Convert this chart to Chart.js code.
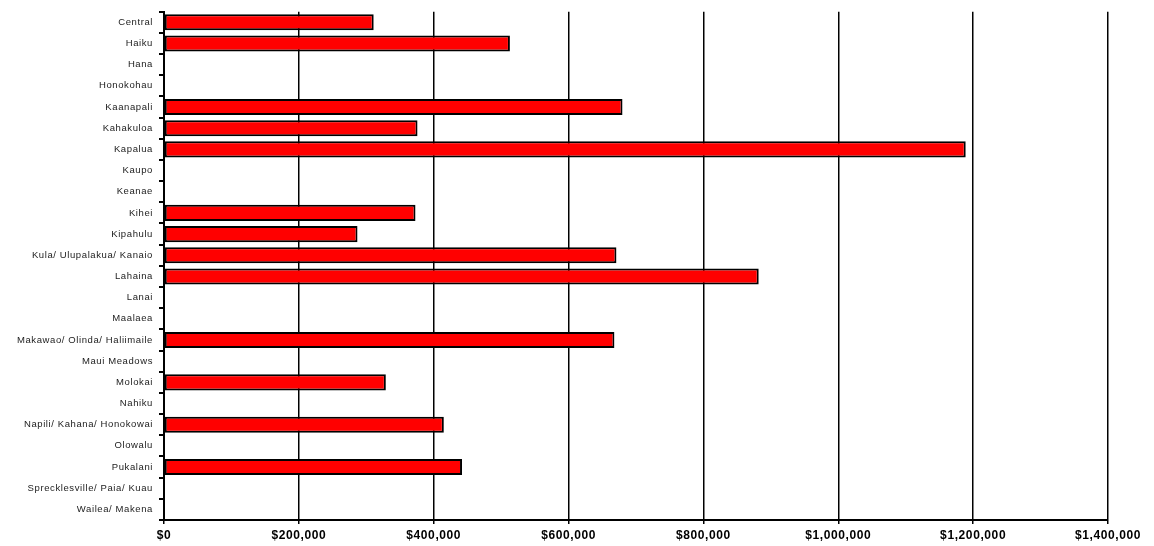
<!DOCTYPE html>
<html>
<head>
<meta charset="utf-8">
<script src="https://cdn.jsdelivr.net/npm/chart.js@4"></script>
<style>
  html, body { margin: 0; padding: 0; background: #fff; }
  #wrap { width: 1154px; height: 546px; }
</style>
</head>
<body>
<div id="wrap"><canvas id="chart"></canvas></div>
<script>
const areas = [
  'Central', 'Haiku', 'Hana', 'Honokohau', 'Kaanapali', 'Kahakuloa', 'Kapalua',
  'Kaupo', 'Keanae', 'Kihei', 'Kipahulu', 'Kula/ Ulupalakua/ Kanaio', 'Lahaina',
  'Lanai', 'Maalaea', 'Makawao/ Olinda/ Haliimaile', 'Maui Meadows', 'Molokai',
  'Nahiku', 'Napili/ Kahana/ Honokowai', 'Olowalu', 'Pukalani',
  'Sprecklesville/ Paia/ Kuau', 'Wailea/ Makena'
];
const medianPrice = [
  311000, 513000, null, null, 680000, 376000, 1189000,
  null, null, 373000, 287000, 671000, 882000,
  null, null, 668000, null, 329000,
  null, 415000, null, 442000,
  null, null
];
const xTicks = [0, 200000, 400000, 600000, 800000, 1000000, 1200000, 1400000];

function money(v) {
  return '$' + v.toLocaleString('en-US');
}

// the original labels are drawn with loose letter spacing
const spacing = {
  id: 'spacing',
  beforeDraw: c => { c.ctx.letterSpacing = '0.6px'; }
};

new Chart(document.getElementById('chart'), {
  type: 'bar',
  data: {
    labels: areas,
    datasets: [{
      data: medianPrice,
      backgroundColor: '#ff0000',
      borderColor: '#000',
      borderWidth: 2,
      borderSkipped: false,
      categoryPercentage: 1,
      barPercentage: 0.76
    }]
  },
  options: {
    indexAxis: 'y',
    responsive: true,
    maintainAspectRatio: false,
    animation: false,
    layout: { padding: { top: 8, right: 46, left: 0, bottom: 0 } },
    plugins: { legend: { display: false }, tooltip: { enabled: false } },
    scales: {
      x: {
        min: 0,
        max: 1400000,
        afterBuildTicks: s => { s.ticks = xTicks.map(v => ({ value: v })); },
        afterFit: s => { s.height = 26; },
        grid: { color: '#000', lineWidth: 1.5, drawTicks: true, tickLength: 4 },
        border: { color: '#000', width: 2 },
        ticks: {
          color: '#000',
          font: { family: 'Liberation Sans, Arial', size: 12, weight: 'bold' },
          padding: 4,
          maxRotation: 0,
          callback: v => money(v)
        }
      },
      y: {
        afterFit: s => { s.width = 164; },
        grid: { drawOnChartArea: false, color: '#000', lineWidth: 2, tickLength: 5, offset: true },
        border: { color: '#000', width: 2 },
        ticks: {
          color: '#222',
          font: { family: 'Liberation Sans, Arial', size: 9.5 },
          padding: 6,
          autoSkip: false
        }
      }
    }
  },
  plugins: [spacing]
});
</script>
</body>
</html>
